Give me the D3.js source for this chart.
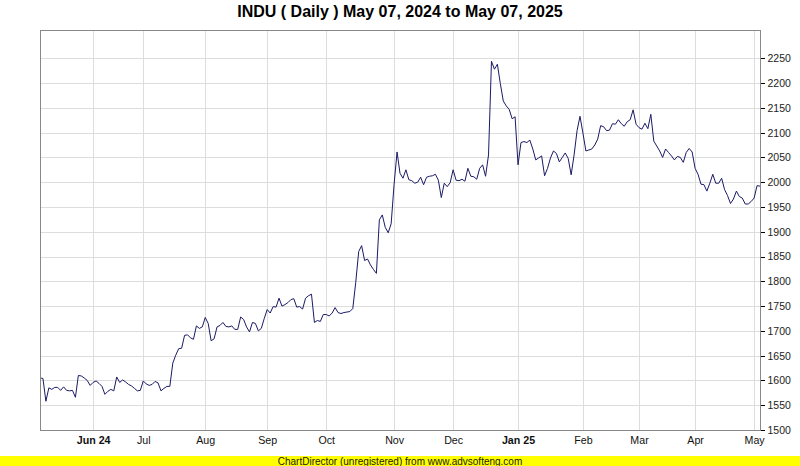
<!DOCTYPE html>
<html>
<head>
<meta charset="utf-8">
<script src="https://cdn.jsdelivr.net/npm/d3@7/dist/d3.min.js"></script>
<style>
  html, body { margin: 0; padding: 0; background: #ffffff; }
  svg { display: block; }
  text { font-family: "Liberation Sans", Arial, sans-serif; }
</style>
</head>
<body>
<script>
// ---- Data ----
const titleText = "INDU ( Daily ) May 07, 2024 to May 07, 2025";
const footerText = "ChartDirector (unregistered) from www.advsofteng.com";

const closeValues = [
  1605, 1604, 1558, 1585, 1582, 1586, 1586, 1580, 1587, 1580,
  1579, 1580, 1566, 1610, 1609, 1605, 1600, 1590, 1596, 1599,
  1594, 1588, 1572, 1578, 1582, 1579, 1607, 1596, 1601, 1597,
  1592, 1589, 1584, 1579, 1580, 1599, 1593, 1590, 1592, 1598,
  1595, 1579, 1584, 1588, 1588, 1635, 1651, 1664, 1665, 1691,
  1692, 1686, 1683, 1710, 1705, 1708, 1727, 1715, 1680, 1684,
  1708, 1711, 1717, 1709, 1708, 1710, 1703, 1703, 1728, 1723,
  1708, 1698, 1717, 1715, 1700, 1705, 1725, 1743, 1736, 1749,
  1748, 1766, 1750, 1753, 1757, 1763, 1765, 1748, 1749, 1744,
  1766, 1771, 1774, 1717, 1721, 1719, 1733, 1733, 1730, 1736,
  1747, 1737, 1735, 1737, 1738, 1739, 1745, 1798, 1860, 1872,
  1842, 1845, 1833, 1824, 1816, 1924, 1934, 1909, 1898, 1916,
  1996, 2061, 2018, 2008, 2025, 2005, 2003, 1998, 2000, 2010,
  1995, 2010, 2012, 2013, 2016, 2004, 1969, 1998, 1991, 1999,
  2025, 2004, 2003, 2006, 2002, 2028, 2012, 2011, 2006, 2028,
  2035, 2012, 2055, 2244, 2228, 2238, 2199, 2164, 2154, 2147,
  2128, 2132, 2035, 2080, 2082, 2080, 2085, 2067, 2045, 2049,
  2053, 2013, 2028, 2049, 2063, 2058, 2041, 2050, 2059, 2048,
  2015, 2055, 2104, 2133, 2099, 2063, 2065, 2067, 2075, 2087,
  2114, 2112, 2104, 2105, 2118, 2117, 2126, 2118, 2113, 2122,
  2126, 2146, 2117, 2110, 2107, 2119, 2108, 2137, 2083, 2073,
  2063, 2050, 2067, 2060, 2053, 2045, 2052, 2050, 2040, 2060,
  2068, 2061, 2028, 2016, 1996, 1995, 1982, 1998, 2016, 1998,
  1998, 2008, 1985, 1973, 1957, 1966, 1982, 1971, 1968, 1956,
  1956, 1961, 1968, 1993, 1992
];

// month boundaries (trading-day index of first day of month)
const monthTickIndex = [18, 35, 56, 77, 97, 120, 140, 162, 184, 203, 222, 242];
const monthTickLabels = ["Jun 24", "Jul", "Aug", "Sep", "Oct", "Nov", "Dec", "Jan 25", "Feb", "Mar", "Apr", "May"];
const monthTickBold = [true, false, false, false, false, false, false, true, false, false, false, false];

const yTickValues = [1500, 1550, 1600, 1650, 1700, 1750, 1800, 1850, 1900, 1950, 2000, 2050, 2100, 2150, 2200, 2250];

// ---- Layout ----
const W = 800, H = 466;
const plotL = 40, plotR = 760, plotT = 30, plotB = 430;

const svg = d3.select("body").append("svg")
  .attr("width", W).attr("height", H)
  .attr("viewBox", `0 0 ${W} ${H}`);

const x = d3.scaleLinear().domain([0, closeValues.length - 1]).range([plotL, plotR]);
const y = d3.scaleLinear().domain([1500, 2250]).range([plotB, 58.3]);

// plot background
svg.append("rect").attr("x", plotL).attr("y", plotT)
  .attr("width", plotR - plotL).attr("height", plotB - plotT)
  .attr("fill", "#ffffff");

// grid lines
const grid = svg.append("g").attr("shape-rendering", "crispEdges");
grid.selectAll("line.h").data(yTickValues.filter(v => v > 1500)).join("line")
  .attr("class", "h")
  .attr("x1", plotL).attr("x2", plotR)
  .attr("y1", d => Math.round(y(d)) + 0.5).attr("y2", d => Math.round(y(d)) + 0.5)
  .attr("stroke", "#dddddd").attr("stroke-width", 1);
grid.selectAll("line.v").data(monthTickIndex).join("line")
  .attr("class", "v")
  .attr("y1", plotT).attr("y2", plotB)
  .attr("x1", d => Math.round(x(d)) + 0.5).attr("x2", d => Math.round(x(d)) + 0.5)
  .attr("stroke", "#dddddd").attr("stroke-width", 1);

// price line
const line = d3.line()
  .x((d, i) => x(i))
  .y(d => y(d));
svg.append("path")
  .datum(closeValues)
  .attr("d", line)
  .attr("fill", "none")
  .attr("stroke", "#1a1a66")
  .attr("stroke-width", 1)
  .attr("stroke-linejoin", "round");

// frame (left, bottom, right, top)
svg.append("rect").attr("x", plotL + 0.5).attr("y", plotT + 0.5)
  .attr("width", plotR - plotL).attr("height", plotB - plotT)
  .attr("fill", "none").attr("stroke", "#888888").attr("stroke-width", 1)
  .attr("shape-rendering", "crispEdges");

// right y axis
const yAxis = d3.axisRight(y).tickValues(yTickValues).tickSize(4).tickPadding(3)
  .tickFormat(d3.format("d"));
const gy = svg.append("g").attr("transform", `translate(${plotR + 0.5},0)`).call(yAxis);
gy.select(".domain").remove();
gy.selectAll(".tick line").attr("stroke", "#000000").attr("shape-rendering", "crispEdges");
gy.selectAll(".tick text")
  .attr("font-family", "'Liberation Sans', Arial, sans-serif")
  .attr("font-size", 10.5).attr("fill", "#222222");

// bottom x axis
const xAxis = d3.axisBottom(x).tickValues(monthTickIndex).tickSize(0).tickPadding(6)
  .tickFormat((d, i) => monthTickLabels[i]);
const gx = svg.append("g").attr("transform", `translate(0,${plotB + 0.5})`).call(xAxis);
gx.select(".domain").remove();
gx.selectAll(".tick text")
  .attr("font-family", "'Liberation Sans', Arial, sans-serif")
  .attr("font-size", 10.67).attr("fill", "#111111")
  .attr("font-weight", (d, i) => monthTickBold[i] ? "bold" : "normal");

// title
svg.append("text").attr("x", W / 2).attr("y", 17)
  .attr("text-anchor", "middle")
  .attr("font-size", 16).attr("font-weight", "bold").attr("fill", "#000000")
  .text(titleText);

// footer bar
svg.append("rect").attr("x", 0).attr("y", 456).attr("width", W).attr("height", 10)
  .attr("fill", "#ffff00");
svg.append("text").attr("x", W / 2).attr("y", 465)
  .attr("text-anchor", "middle")
  .attr("font-size", 10).attr("fill", "#222200")
  .text(footerText);
</script>
</body>
</html>
